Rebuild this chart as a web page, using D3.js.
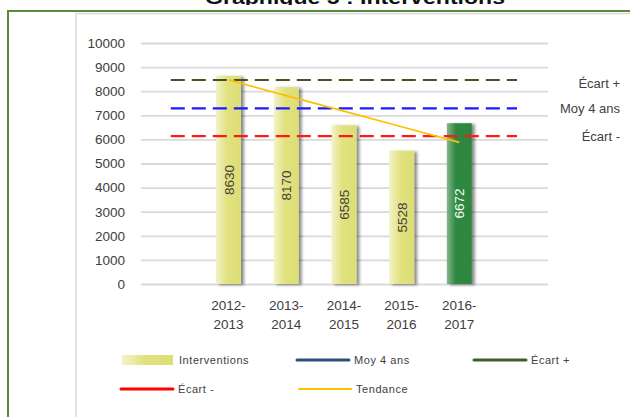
<!DOCTYPE html>
<html><head><meta charset="utf-8">
<script src="https://cdn.jsdelivr.net/npm/d3@7"></script>
<style>
html,body{margin:0;padding:0;background:#fff;}
svg{display:block;font-family:"Liberation Sans",Arial,sans-serif;}
</style></head>
<body><svg id="c" width="630" height="417"></svg>
<script>
const categories = ["2012-2013","2013-2014","2014-2015","2015-2016","2016-2017"];
const interventions = [8630, 8170, 6585, 5528, 6672];
const tendance = [8465, 7820, 7170, 6525, 5880];
const moy4ans = 7290;
const ecartPlus = 8465;
const ecartMinus = 6140;
const yTicks = [0,1000,2000,3000,4000,5000,6000,7000,8000,9000,10000];
const refLines = [
  {name:"Écart +", value: ecartPlus, color:"#4d4d26"},
  {name:"Moy 4 ans", value: moy4ans, color:"#1a1aff"},
  {name:"Écart -", value: ecartMinus, color:"#ff1a1a"}
];
const legendItems = [
  {name:"Interventions", type:"bar"},
  {name:"Moy 4 ans", type:"line", color:"#2c4f7c", w:3},
  {name:"Écart +", type:"line", color:"#3d5f26", w:3},
  {name:"Écart -", type:"line", color:"#ff0000", w:3},
  {name:"Tendance", type:"line", color:"#ffc000", w:2}
];

const svg = d3.select("#c");
const defs = svg.append("defs");
const g1 = defs.append("linearGradient").attr("id","gy");
g1.append("stop").attr("offset","0%").attr("stop-color","#f3f3c9");
g1.append("stop").attr("offset","45%").attr("stop-color","#e1e17e");
g1.append("stop").attr("offset","100%").attr("stop-color","#dede77");
const g2 = defs.append("linearGradient").attr("id","gg");
g2.append("stop").attr("offset","0%").attr("stop-color","#86b78e");
g2.append("stop").attr("offset","35%").attr("stop-color","#2f8a41");
g2.append("stop").attr("offset","100%").attr("stop-color","#2d853f");
const f = defs.append("filter").attr("id","sh").attr("x","-20%").attr("y","-5%").attr("width","160%").attr("height","115%");
f.append("feDropShadow").attr("dx",3).attr("dy",1).attr("stdDeviation",1.6).attr("flood-color","#000").attr("flood-opacity",0.45);
defs.append("clipPath").attr("id","tclip").append("rect").attr("x",0).attr("y",0).attr("width",630).attr("height",5);

// title (cut off at top)
svg.append("text").attr("clip-path","url(#tclip)")
  .attr("x",355).attr("y",4).attr("text-anchor","middle")
  .attr("font-weight","bold").attr("font-size",19)
  .attr("textLength",300).attr("lengthAdjust","spacingAndGlyphs")
  .attr("fill","#111").text("Graphique 5 : Interventions");

// frames
svg.append("rect").attr("x",8).attr("y",11).attr("width",640).attr("height",420)
  .attr("fill","#fff").attr("stroke","#5b8a3a").attr("stroke-width",2);
svg.append("rect").attr("x",76).attr("y",13.5).attr("width",600).attr("height",420)
  .attr("fill","none").attr("stroke","#d9d9d9").attr("stroke-width",1.5);

const y = d3.scaleLinear().domain([0,10000]).range([284,43]);
const x = d3.scaleBand().domain(categories).range([199.65,488.15]).paddingInner(0.567).paddingOuter(0.2835);
const cx = d => x(d) + x.bandwidth()/2;
const gridL = 141, gridR = 548;

// y axis with gridlines
const ya = svg.append("g").attr("transform",`translate(${gridL},0)`)
  .call(d3.axisLeft(y).tickValues(yTicks).tickSize(-(gridR-gridL)).tickPadding(16).tickFormat(d3.format("d")));
ya.select(".domain").remove();
ya.selectAll(".tick line").attr("stroke","#d9d9d9").attr("stroke-width",1.8);
ya.selectAll(".tick text").attr("font-size",13.5).attr("fill","#404040").attr("font-family","Liberation Sans, Arial, sans-serif");

// x axis
const xa = svg.append("g").attr("transform","translate(0,284)")
  .call(d3.axisBottom(x).tickSize(0).tickFormat(""));
xa.select(".domain").remove();
xa.selectAll(".tick").each(function(d){
  const parts = d.split("-");
  const t = d3.select(this).append("text").attr("fill","#404040").attr("font-size",13.5)
    .attr("text-anchor","middle").attr("font-family","Liberation Sans, Arial, sans-serif");
  t.append("tspan").attr("x",0).attr("y",26).text(parts[0]+"-");
  t.append("tspan").attr("x",0).attr("y",45).text(parts[1]);
});

// bars
svg.append("g").selectAll("rect").data(categories).join("rect")
  .attr("x",d=>x(d)).attr("width",x.bandwidth())
  .attr("y",(d,i)=>y(interventions[i])).attr("height",(d,i)=>y(0)-y(interventions[i]))
  .attr("fill",(d,i)=>i===categories.length-1?"url(#gg)":"url(#gy)")
  .attr("filter","url(#sh)");

// reference dashed lines
const lx0 = cx(categories[0]) - x.step();
const lx1 = cx(categories[categories.length-1]) + x.step();
refLines.forEach(r=>{
  svg.append("line").attr("x1",lx0).attr("x2",lx1).attr("y1",y(r.value)).attr("y2",y(r.value))
    .attr("stroke",r.color).attr("stroke-width",2.2).attr("stroke-dasharray","14,7");
  svg.append("text").attr("x",620).attr("y",y(r.value)+(r.name==="Écart +"?8:5)).attr("text-anchor","end")
    .attr("font-size",13).attr("fill","#404040").text(r.name);
});

// trend line
svg.append("path").datum(tendance)
  .attr("d", d3.line().x((d,i)=>cx(categories[i])).y(d=>y(d)))
  .attr("fill","none").attr("stroke","#ffc000").attr("stroke-width",1.8);

// data labels
svg.append("g").selectAll("text").data(categories).join("text")
  .attr("transform",(d,i)=>`translate(${cx(d)+5},${(y(interventions[i])+y(0))/2}) rotate(-90)`)
  .attr("text-anchor","middle").attr("font-size",13.5)
  .attr("fill",(d,i)=>i===categories.length-1?"#ffffff":"#404040")
  .text((d,i)=>interventions[i]);

// legend
const legPos = [[122,360],[297,360],[474,360],[121,389],[299,389]];
const lg = svg.append("g");
legendItems.forEach((it,i)=>{
  const [lx,ly] = legPos[i];
  if(it.type==="bar"){
    lg.append("rect").attr("x",lx).attr("y",ly-5).attr("width",51).attr("height",10).attr("fill","url(#gy)");
  } else {
    lg.append("line").attr("x1",lx).attr("x2",lx+52).attr("y1",ly).attr("y2",ly)
      .attr("stroke",it.color).attr("stroke-width",it.w).attr("stroke-linecap","round");
  }
  lg.append("text").attr("x",lx+57).attr("y",ly+4).attr("font-size",11).attr("letter-spacing",0.55)
    .attr("fill","#404040").text(it.name);
});
</script></body></html>
